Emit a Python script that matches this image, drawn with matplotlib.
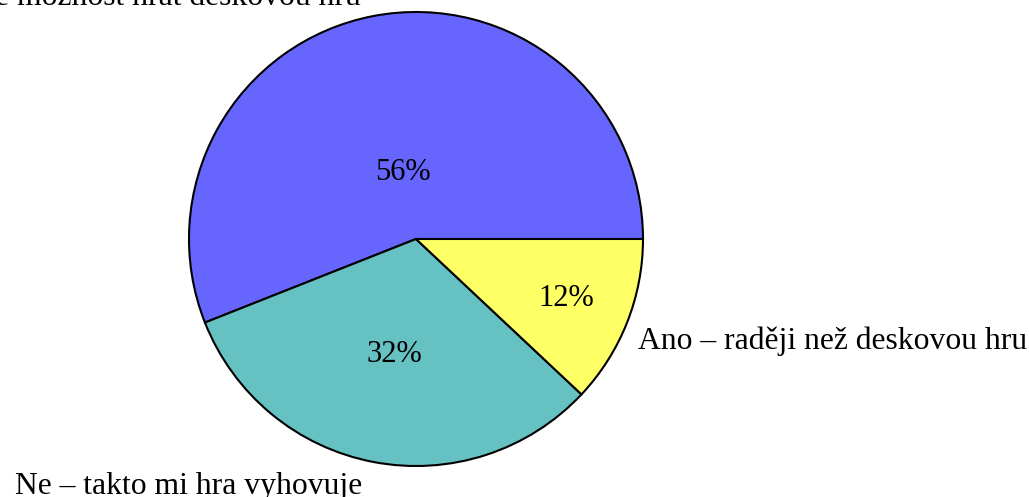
import numpy as np
import matplotlib.pyplot as plt

plt.rcParams['font.family'] = ['Liberation Serif', 'DejaVu Serif']

labels = ['Ne – pokud je možnost hrát deskovou hru',
          'Ne – takto mi hra vyhovuje',
          'Ano – raději než deskovou hru']
values = [56, 32, 12]
colors = ['#6666ff', '#66c2c2', '#ffff66']
pct_dist = [0.3, 0.52, 0.71]

fig = plt.figure(figsize=(10.29, 4.97), dpi=100)
ax = fig.add_axes([0, 0, 1, 1])
ax.axis('off')

wedges, _ = ax.pie(values, colors=colors, startangle=0, counterclock=True,
                   radius=1.0, wedgeprops=dict(edgecolor='black', linewidth=1.5))

# label anchors: (ha, shift x px, shift y px)
anchors = [('right', -11, 0), ('right', -9, -21), ('left', 0, -22)]

start = 0.0
for v, lab, d, (ha, dx, dy) in zip(values, labels, pct_dist, anchors):
    mid = np.deg2rad(start + v * 3.6 / 2)
    ax.text(d * np.cos(mid), d * np.sin(mid), f'{v}%', ha='center', va='center', fontsize=22)
    ax.annotate(lab, (1.05 * np.cos(mid), 1.05 * np.sin(mid)), xytext=(dx * 0.72, dy * 0.72),
                textcoords='offset points', ha=ha, va='baseline', fontsize=22.8,
                annotation_clip=False)
    start += v * 3.6

ax.set_xlim(-416 / 227, (1029 - 416) / 227)
ax.set_ylim(-(497 - 239) / 227, 239 / 227)
ax.set_aspect('auto')

fig.savefig('out.png', dpi=100)
